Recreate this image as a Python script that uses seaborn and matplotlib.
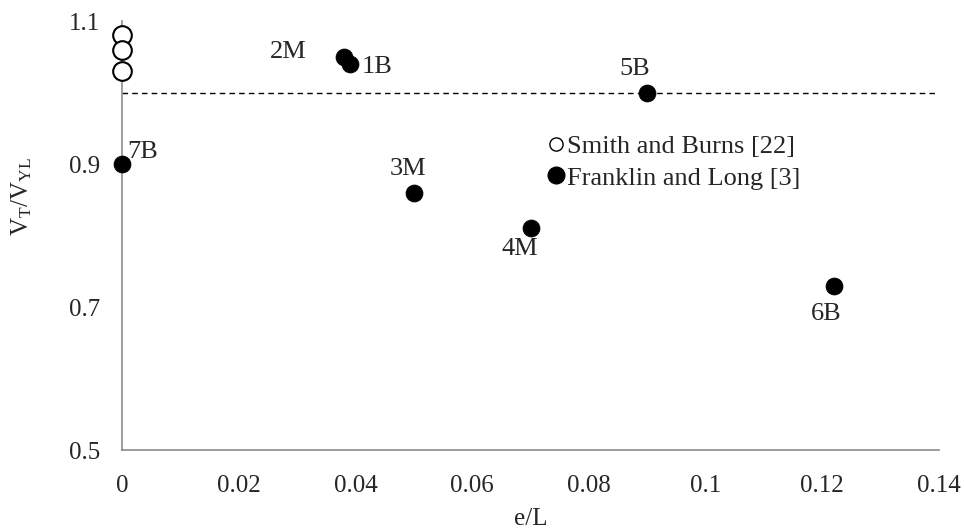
import numpy as np
import pandas as pd
import matplotlib
matplotlib.use("Agg")
import matplotlib.pyplot as plt
import seaborn as sns

# ── data ──────────────────────────────────────────────────────────────────────
smith_x = [0.0, 0.0, 0.0]
smith_y = [1.08, 1.06, 1.03]

franklin_labels = ["1B", "2M", "3M", "4M", "5B", "6B", "7B"]
franklin_x = [0.039, 0.038, 0.050, 0.070, 0.090, 0.122, 0.0]
franklin_y = [1.04, 1.05, 0.86, 0.81, 1.00, 0.73, 0.90]

ref_level = 1.0
x_ticks = [0, 0.02, 0.04, 0.06, 0.08, 0.1, 0.12, 0.14]
x_ticklabels = ["0", "0.02", "0.04", "0.06", "0.08", "0.1", "0.12", "0.14"]
y_ticks = [0.5, 0.7, 0.9, 1.1]

# label offsets (pixels) for each Franklin point
label_offsets = {
    "1B": (27, -3), "2M": (-56, 5), "3M": (-6, 24), "4M": (-11, -21),
    "5B": (-13, 24), "6B": (-8, -28), "7B": (21, 12),
}

# ── style ─────────────────────────────────────────────────────────────────────
sns.set_style("white")
plt.rcParams["font.family"] = ["Liberation Serif", "DejaVu Serif"]
plt.rcParams["mathtext.fontset"] = "custom"
plt.rcParams["mathtext.rm"] = "Liberation Serif"
plt.rcParams["mathtext.it"] = "Liberation Serif"

FS = 18
FS_TXT = 19

fig = plt.figure(figsize=(9.64, 5.32), dpi=100)
ax = fig.add_axes([0.1266, 0.154, 0.8475, 0.8065])

smith = pd.DataFrame({"x": smith_x, "y": smith_y})
franklin = pd.DataFrame({"x": franklin_x, "y": franklin_y, "label": franklin_labels})

ax.axhline(ref_level, color="black", lw=1, ls=(0, (4, 3)), zorder=1)

sns.scatterplot(data=smith, x="x", y="y", ax=ax, s=180, marker="o",
                facecolor="white", edgecolor="black", linewidth=1.5,
                clip_on=False, zorder=3)
sns.scatterplot(data=franklin, x="x", y="y", ax=ax, s=150, marker="o",
                color="black", edgecolor="black", linewidth=0.5,
                clip_on=False, zorder=4)

for _, row in franklin.iterrows():
    dx, dy = label_offsets[row["label"]]
    ax.annotate(row["label"], (row["x"], row["y"]), xytext=(dx, dy),
                textcoords="offset pixels", ha="center", va="center",
                fontsize=FS_TXT)

# legend (hand-made handles)
h1 = plt.Line2D([], [], ls="", marker="o", ms=9.5, mfc="white", mec="black", mew=1)
h2 = plt.Line2D([], [], ls="", marker="o", ms=12, mfc="black", mec="black")
ax.legend([h1, h2], ["Smith and Burns [22]", "Franklin and Long [3]"],
          loc="upper left", bbox_to_anchor=(0.52, 0.735), frameon=False,
          fontsize=FS_TXT, handlelength=0.7, handletextpad=0.05,
          labelspacing=0.3, borderaxespad=0, borderpad=0)

ax.set_xlim(0, 0.14)
ax.set_ylim(0.5, 1.1)
ax.set_xticks(x_ticks)
ax.set_xticklabels(x_ticklabels)
ax.set_yticks(y_ticks)
ax.tick_params(axis="both", labelsize=FS, length=6, width=1, color="#8c8c8c",
               direction="out")
ax.tick_params(axis="x", pad=12)
ax.tick_params(axis="y", pad=10)

for side in ["top", "right"]:
    ax.spines[side].set_visible(False)
for side in ["left", "bottom"]:
    ax.spines[side].set_color("#8c8c8c")
    ax.spines[side].set_linewidth(1.2)

ax.set_xlabel("e/L", fontsize=FS)
ax.xaxis.set_label_coords(0.5, -0.135)
ax.set_ylabel(r"V$_\mathregular{T}$/V$_\mathregular{YL}$", fontsize=FS)
ax.yaxis.set_label_coords(-0.108, 0.59)

fig.savefig("out.png", dpi=100)
